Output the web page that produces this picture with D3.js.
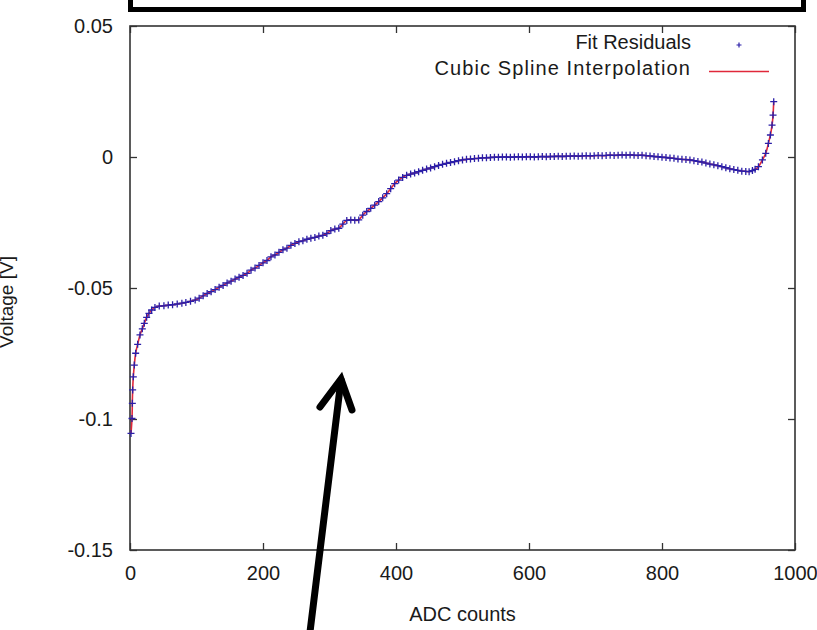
<!DOCTYPE html>
<html>
<head>
<meta charset="utf-8">
<script src="https://cdn.jsdelivr.net/npm/d3@7"></script>
<style>
body { margin: 0; background: #fff; }
text { font-family: "Liberation Sans", Arial, sans-serif; fill: #1a1a1a; }
</style>
</head>
<body>
<div class="chart-container"></div>
<script>
// data
const adc_counts = [1.5, 3, 3.5, 4, 5, 6.5, 8.5, 11.5, 15, 18.5, 21.5, 25, 28.5, 32.5, 37.5, 44, 51, 57.5, 64, 71, 78, 84, 91, 98,
    104, 110, 116, 122, 128, 134, 140, 146, 152, 158, 164, 170, 176, 182, 188, 194, 200, 206, 212, 218, 224, 230, 236, 242, 248, 254,
    260, 266, 272, 278, 284, 290, 296, 302, 308, 314, 320, 326, 332, 338, 344, 350, 356, 362, 368, 374, 380, 386, 392, 398, 404, 410,
    416, 422, 428, 434, 440, 446, 452, 458, 464, 470, 476, 482, 488, 494, 500, 506, 512, 518, 524, 530, 536, 542, 548, 554, 560, 566,
    572, 578, 584, 590, 596, 602, 608, 614, 620, 626, 632, 638, 644, 650, 656, 662, 668, 674, 680, 686, 692, 698, 704, 710, 716, 722,
    728, 734, 740, 746, 752, 758, 764, 770, 776, 782, 788, 794, 800, 806, 812, 818, 824, 830, 836, 842, 848, 854, 860, 866, 872, 878,
    884, 890, 896, 902, 908, 914, 920, 926, 931, 936, 940, 945, 951, 956, 960, 963, 965.5, 967, 968];
const residuals = [-0.1055, -0.0998, -0.0940, -0.0889, -0.0839, -0.0794, -0.0749, -0.0715, -0.0679, -0.0656, -0.0635, -0.0612, -0.0597, -0.0584, -0.0574, -0.0569, -0.0568, -0.0565, -0.0564, -0.0561, -0.0558, -0.0555, -0.0551, -0.0546,
    -0.0539, -0.0530, -0.0521, -0.0514, -0.0506, -0.0497, -0.0490, -0.0481, -0.0474, -0.0466, -0.0459, -0.0452, -0.0444, -0.0432, -0.0424, -0.0414, -0.0404, -0.0395, -0.0381, -0.0374, -0.0364, -0.0354, -0.0348, -0.0337, -0.0330, -0.0323,
    -0.0320, -0.0314, -0.0310, -0.0307, -0.0302, -0.0299, -0.0292, -0.0281, -0.0275, -0.0272, -0.0256, -0.0242, -0.0240, -0.0241, -0.0240, -0.0222, -0.0208, -0.0196, -0.0184, -0.0170, -0.0156, -0.0140, -0.0121, -0.0102, -0.0088, -0.0078,
    -0.0070, -0.0065, -0.0061, -0.0056, -0.0051, -0.0046, -0.0042, -0.0037, -0.0032, -0.0028, -0.0024, -0.0021, -0.0018, -0.0014, -0.0011, -0.0009, -0.0008, -0.0006, -0.0005, -0.0003, -0.0003, -0.0002, -0.0001, -0.0001, 0.0000, 0.0000,
    -0.0001, 0.0000, 0.0001, 0.0000, 0.0001, 0.0001, 0.0000, 0.0001, 0.0002, 0.0001, 0.0002, 0.0002, 0.0003, 0.0002, 0.0003, 0.0003, 0.0004, 0.0003, 0.0004, 0.0005, 0.0004, 0.0005, 0.0006, 0.0005, 0.0006, 0.0007,
    0.0006, 0.0007, 0.0008, 0.0007, 0.0008, 0.0007, 0.0006, 0.0007, 0.0005, 0.0004, 0.0002, 0.0001, -0.0001, -0.0002, -0.0004, -0.0005, -0.0008, -0.0009, -0.0010, -0.0011, -0.0014, -0.0017, -0.0019, -0.0023, -0.0027, -0.0030,
    -0.0033, -0.0037, -0.0041, -0.0045, -0.0048, -0.0051, -0.0054, -0.0055, -0.0056, -0.0052, -0.0047, -0.0037, -0.0011, 0.0014, 0.0052, 0.0084, 0.0122, 0.0160, 0.0211];
const x_ticks = [0, 200, 400, 600, 800, 1000];
const y_ticks = [0.05, 0, -0.05, -0.1, -0.15];
const y_tick_labels = ['0.05', '0', '-0.05', '-0.1', '-0.15'];
const legend_labels = ['Fit Residuals', 'Cubic Spline Interpolation'];

const svg_width = 817;
const svg_height = 630;
const chart = {left: 130, right: 795, top: 26, bottom: 550};
const font_size = '20px';

const svg = d3.select('.chart-container')
    .append('svg')
    .attr('width', svg_width)
    .attr('height', svg_height);
svg.append('rect').attr('width', svg_width).attr('height', svg_height).attr('fill', '#fff');

const x_scale = d3.scaleLinear([0, 1000], [chart.left, chart.right]);
const y_scale = d3.scaleLinear([-0.15, 0.05], [chart.bottom, chart.top]);

const data = adc_counts.map((d, i) => ({adc: d, res: residuals[i]}));

// axes (ticks point inward, mirrored on all sides)
const tick_len = 7;
const style_axis = g => {
    g.select('.domain').remove();
    g.selectAll('.tick line').attr('stroke', '#333').attr('stroke-width', 1.3);
    g.selectAll('text').style('font-size', font_size).attr('fill', '#1a1a1a')
        .style('font-family', '"Liberation Sans", Arial, sans-serif');
};
svg.append('g').attr('transform', `translate(${chart.left},0)`)
    .call(d3.axisLeft(y_scale).tickValues(y_ticks).tickFormat((d, i) => y_tick_labels[i])
        .tickSizeInner(-tick_len).tickSizeOuter(0).tickPadding(17))
    .call(style_axis);
svg.append('g').attr('transform', `translate(${chart.right},0)`)
    .call(d3.axisRight(y_scale).tickValues(y_ticks).tickFormat('')
        .tickSizeInner(-tick_len).tickSizeOuter(0))
    .call(style_axis);
svg.append('g').attr('transform', `translate(0,${chart.bottom})`)
    .call(d3.axisBottom(x_scale).tickValues(x_ticks).tickFormat(d3.format('d'))
        .tickSizeInner(-tick_len).tickSizeOuter(0).tickPadding(16))
    .call(style_axis);
svg.append('g').attr('transform', `translate(0,${chart.top})`)
    .call(d3.axisTop(x_scale).tickValues(x_ticks).tickFormat('')
        .tickSizeInner(-tick_len).tickSizeOuter(0))
    .call(style_axis);

// frame
svg.append('rect')
    .attr('x', chart.left).attr('y', chart.top)
    .attr('width', chart.right - chart.left).attr('height', chart.bottom - chart.top)
    .attr('fill', 'none').attr('stroke', '#333').attr('stroke-width', 1.6);

// axis titles (the y title is cut by the left edge in the original too)
svg.append('text')
    .attr('x', (chart.left + chart.right) / 2).attr('y', 621)
    .attr('text-anchor', 'middle').style('font-size', font_size)
    .text('ADC counts');
svg.append('text')
    .attr('transform', 'translate(13,302) rotate(-90)')
    .attr('text-anchor', 'middle').style('font-size', '19px')
    .text('Voltage [V]');

// spline + residual markers
const red = '#e0283a';
const blue = '#2b1fa8';
const line = d3.line().x(d => x_scale(d.adc)).y(d => y_scale(d.res)).curve(d3.curveNatural);
svg.append('path').datum(data)
    .attr('d', line).attr('fill', 'none')
    .attr('stroke', red).attr('stroke-width', 1.6);

const plus = 'M-3.5,0H3.5M0,-3.5V3.5';
svg.append('g').selectAll('.pt')
    .data(data).enter()
    .append('path')
    .attr('class', 'pt')
    .attr('transform', d => `translate(${x_scale(d.adc)},${y_scale(d.res)})`)
    .attr('d', plus)
    .attr('stroke', blue).attr('stroke-width', 1.3).attr('fill', 'none');

// legend
const legend = svg.append('g');
legend.append('text').attr('x', 691).attr('y', 49).attr('text-anchor', 'end')
    .style('font-size', font_size).text(legend_labels[0]);
legend.append('path').attr('transform', 'translate(739,45)').attr('d', 'M-2.5,0H2.5M0,-2.5V2.5')
    .attr('stroke', blue).attr('stroke-width', 1.2);
legend.append('text').attr('x', 691).attr('y', 75).attr('text-anchor', 'end')
    .style('font-size', font_size).style('letter-spacing', '1.1px').text(legend_labels[1]);
legend.append('line').attr('x1', 709).attr('x2', 769).attr('y1', 71.5).attr('y2', 71.5)
    .attr('stroke', red).attr('stroke-width', 1.6);

// annotation overlays: black box at top and arrow
svg.append('rect')
    .attr('x', 130.5).attr('y', -20).attr('width', 673).attr('height', 29.5)
    .attr('fill', '#fff').attr('stroke', '#000').attr('stroke-width', 5);
const arrow = svg.append('g').attr('stroke', '#000').attr('stroke-width', 7)
    .attr('stroke-linecap', 'round').attr('fill', 'none');
arrow.append('line').attr('x1', 309).attr('y1', 640).attr('x2', 341).attr('y2', 380);
arrow.append('path').attr('d', 'M320,407L341,379L352,410');
</script>
</body>
</html>
